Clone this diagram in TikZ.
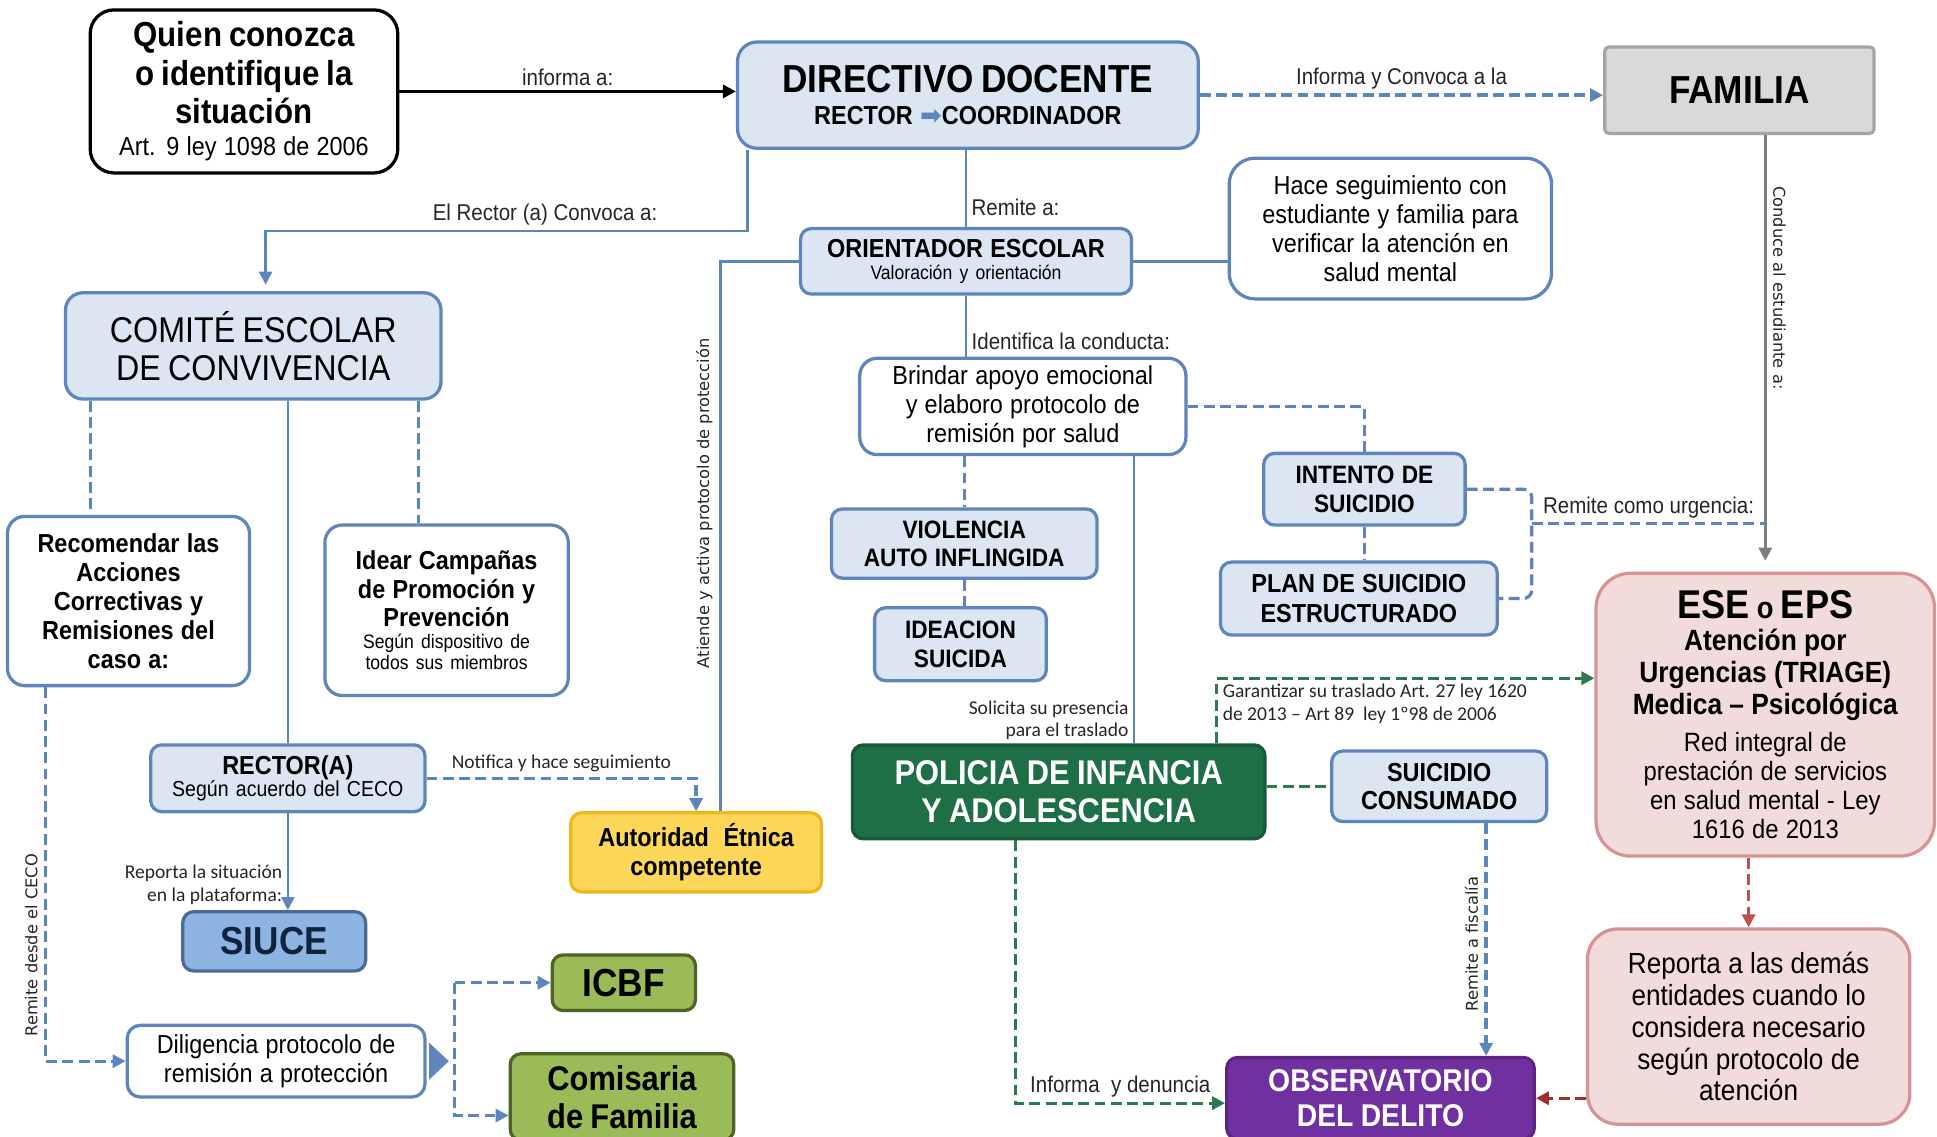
\documentclass[tikz,border=0pt]{standalone}
\usepackage{fontspec}
\setmainfont[FakeStretch=0.9]{Liberation Sans}
\newfontfamily\calib{Carlito}
\newfontfamily\ancha{DejaVu Sans}
\usetikzlibrary{arrows.meta}
\definecolor{fondoazul}{HTML}{DCE6F2}
\definecolor{bordeazul}{HTML}{5E86BD}
\definecolor{azullinea}{HTML}{5A86BC}
\definecolor{azulmedio}{HTML}{8EB4E3}
\definecolor{azuloscuro}{HTML}{10243E}
\definecolor{grisfondo}{HTML}{D9D9D9}
\definecolor{grisborde}{HTML}{A5A5A5}
\definecolor{grislinea}{HTML}{7F7F7F}
\definecolor{rosafondo}{HTML}{F2DCDB}
\definecolor{rosaborde}{HTML}{D59493}
\definecolor{rojolinea}{HTML}{C0504D}
\definecolor{rojooscuro}{HTML}{A0302C}
\definecolor{verdeosc}{HTML}{1E6F46}
\definecolor{verdelinea}{HTML}{2D7A4F}
\definecolor{oliva}{HTML}{9BBB59}
\definecolor{olivaborde}{HTML}{4F6228}
\definecolor{amarillo}{HTML}{FDD75A}
\definecolor{amarilloborde}{HTML}{EFB81A}
\definecolor{morado}{HTML}{7030A0}
\definecolor{moradoborde}{HTML}{5D2684}
\definecolor{textogris}{HTML}{262626}
\newcommand{\letra}[2]{\fontsize{#1}{#2}\selectfont}
\begin{document}
\begin{tikzpicture}[x=0.02cm, y=-0.02cm, >={Triangle[length=6pt,width=6pt]},
	tam/.style 2 args={minimum width=#1*0.02cm, minimum height=#2*0.02cm, text width=#1*0.02cm-10pt},
	caja/.style={draw=bordeazul, fill=fondoazul, line width=1.5pt, rounded corners=5pt, align=center, inner sep=3pt},
	blanca/.style={caja, fill=white, rounded corners=8pt},
	negra/.style={caja, draw=black, fill=white, rounded corners=11pt},
	gris/.style={caja, draw=grisborde, fill=grisfondo, rounded corners=2pt},
	rosa/.style={caja, draw=rosaborde, fill=rosafondo, rounded corners=16pt},
	verde/.style={caja, draw=verdeosc!80!black, fill=verdeosc, text=white},
	olivo/.style={caja, draw=olivaborde, fill=oliva},
	amarilla/.style={caja, draw=amarilloborde, fill=amarillo},
	morada/.style={caja, draw=moradoborde, fill=morado, text=white},
	medio/.style={caja, fill=azulmedio, draw=bordeazul!80!black, text=azuloscuro},
	linea/.style={draw=azullinea, line width=1.2pt},
	rayas/.style={linea, line width=1.5pt, dash pattern=on 5pt off 2.5pt},
	rayasverde/.style={rayas, draw=verdelinea},
	rayasroja/.style={rayas, draw=rojolinea},
	etiqueta/.style={font=\letra{10.5}{12}, text=textogris, inner sep=2pt},
	etcal/.style={font=\calib\letra{9}{10.5}, text=textogris, inner sep=2pt},
	etgir/.style={font=\ancha\letra{7.5}{9}, text=textogris, inner sep=3pt}]
	\fill[white] (0,0) rectangle (1568,920);
	\useasboundingbox (0,0) rectangle (1568,920);
	% cajas
	\node[negra, tam={249}{132}] (quien) at (197.5,74) {{\letra{16}{17.6}\bfseries Quien conozca\\o identifique la\\situación\par}{\letra{12}{15}Art. 9 ley 1098 de 2006\par}};
	\node[caja, tam={373}{86}, rounded corners=9pt] (directivo) at (783.5,77) {{\letra{18}{20}\bfseries DIRECTIVO DOCENTE\par}{\letra{12}{14.7}\bfseries RECTOR {\color{bordeazul}\ancha ➡}COORDINADOR\par}};
	\node[gris, tam={218}{70}] (familia) at (1408,73) {\letra{18}{20}\bfseries FAMILIA\par};
	\node[caja, tam={268}{53}] (orientador) at (782,211.5) {{\letra{12}{13}\bfseries ORIENTADOR ESCOLAR\par}{\letra{9}{10}Valoración y orientación\par}};
	\node[blanca, tam={261}{114}, rounded corners=12pt] (hace) at (1125.5,185) {\letra{12}{13.4}Hace seguimiento con\\estudiante y familia para\\verificar la atención en\\salud mental\par};
	\node[caja, tam={304}{86}, rounded corners=8pt] (comite) at (205,280) {\letra{16.5}{17.6}COMITÉ ESCOLAR\\DE CONVIVENCIA\par};
	\node[blanca, tam={264}{78}] (brindar) at (828,329) {\letra{12}{13.3}Brindar apoyo emocional\\y elaboro protocolo de\\remisión por salud\par};
	\node[caja, tam={215}{56}] (violencia) at (780.5,440) {\letra{11.6}{13}\bfseries VIOLENCIA\\AUTO INFLINGIDA\par};
	\node[caja, tam={139}{59}] (ideacion) at (777.5,521.5) {\letra{11.6}{13}\bfseries IDEACION\\SUICIDA\par};
	\node[caja, tam={163}{58}] (intento) at (1104.5,396) {\letra{11.6}{13.4}\bfseries INTENTO DE\\SUICIDIO\par};
	\node[caja, tam={224}{59}] (plan) at (1100,484.5) {\letra{12}{13.4}\bfseries PLAN DE SUICIDIO\\ESTRUCTURADO\par};
	\node[verde, tam={334}{76}] (policia) at (857,641) {\letra{15.8}{17.6}\bfseries POLICIA DE INFANCIA\\Y ADOLESCENCIA\par};
	\node[caja, tam={174}{57}] (consumado) at (1165,636.5) {\letra{12}{13}\bfseries SUICIDIO\\CONSUMADO\par};
	\node[morada, tam={249}{66}] (observatorio) at (1117.5,889) {\letra{14.5}{15.9}\bfseries OBSERVATORIO\\DEL DELITO\par};
	\node[rosa, tam={274}{229}] (ese) at (1429,578.5) {{\letra{18.5}{21}\bfseries ESE {\letra{14}{14}o} EPS\par}{\letra{13.5}{14.7}\bfseries Atención por\\Urgencias (TRIAGE)\\Medica – Psicológica\par}\vspace{4pt}{\letra{12.2}{13.3}Red integral de\\prestación de servicios\\en salud mental - Ley\\1616 de 2013\par}};
	\node[rosa, tam={261}{158}, rounded corners=14pt] (reporta) at (1415.5,831) {\letra{13.4}{14.7}Reporta a las demás\\entidades cuando lo\\considera necesario\\según protocolo de\\atención\par};
	\node[blanca, tam={196}{137}] (recomendar) at (104,486.5) {\letra{12}{13.3}\bfseries Recomendar las\\Acciones\\Correctivas y\\Remisiones del\\caso a:\par};
	\node[blanca, tam={197}{138}] (idear) at (361.5,494) {{\letra{12}{13.2}\bfseries Idear Campañas\\de Promoción y\\Prevención\par}{\letra{9}{9.8}Según dispositivo de\\todos sus miembros\par}};
	\node[caja, tam={222}{54}] (rectora) at (233,630) {{\letra{12}{13}\bfseries RECTOR(A)\par}{\letra{10}{10.5}Según acuerdo del CECO\par}};
	\node[amarilla, tam={203}{64}] (autoridad) at (563.5,690) {\letra{12}{13.4}\bfseries Autoridad~ Étnica\\competente\par};
	\node[medio, tam={148}{48}] (siuce) at (222,762) {\letra{18}{20}\bfseries SIUCE\par};
	\node[blanca, tam={241}{58}, rounded corners=6pt] (diligencia) at (223.5,859) {\letra{12}{13}Diligencia protocolo de\\remisión a protección\par};
	\node[olivo, tam={116}{45}] (icbf) at (505,795.5) {\letra{18}{20}\bfseries ICBF\par};
	\node[olivo, tam={181}{70}] (comisaria) at (503.5,888) {\letra{15.8}{17.6}\bfseries Comisaria\\de Familia\par};
	% puntos de quiebre
	\coordinate (convoca) at (605,187);
	\coordinate (comitearriba) at ([xshift=0.2cm]comite.north);
	\coordinate (atiende) at (583,0);
	\coordinate (traslado) at (918,0);
	\coordinate (gar) at (985,549);
	\coordinate (fisc) at (1203,0);
	\coordinate (den) at (822,893);
	\coordinate (urg) at (1240,424);
	\coordinate (rc) at (73,0);
	\coordinate (ic) at (339,0);
	\coordinate (rd) at (37,0);
	\coordinate (pc) at (368,903);
	% conectores
	\draw[black, ->, line width=1.4pt] (quien.east) -- (quien.east -| directivo.west) node[midway, above, etiqueta]{informa a:};
	\draw[rayas, ->] (directivo.east) -- (directivo.east -| familia.west) node[midway, above, etiqueta]{Informa y Convoca a la};
	\draw[draw=grislinea, line width=1.3pt, ->, shorten >=5pt] (familia.south -| ese.north) -- (ese.north) node[pos=0.35, rotate=-90, anchor=south, etgir]{Conduce al estudiante a:};
	\draw[linea] (orientador.north |- directivo.south) -- (orientador.north) node[pos=0.75, right, etiqueta]{Remite a:};
	\draw[linea, ->, shorten >=3pt] (directivo.south -| convoca) -- (convoca) -- (convoca -| comitearriba) node[pos=0.42, above, etiqueta]{El Rector (a) Convoca a:} -- (comitearriba);
	\draw[linea] (orientador.east) -- (orientador.east -| hace.west);
	\draw[linea] (orientador.west) -- (orientador.west -| atiende) -- (atiende |- autoridad.north) node[pos=0.44, rotate=90, anchor=south, etgir]{Atiende y activa protocolo de protección};
	\draw[linea] (orientador.south) -- (orientador.south |- brindar.north) node[pos=0.75, right, etiqueta]{Identifica la conducta:};
	\draw[rayas] (brindar.south -| violencia.north) -- (violencia.north);
	\draw[rayas] (violencia.south) -- (violencia.south |- ideacion.north);
	\draw[rayas] (brindar.east) -| (intento.north);
	\draw[rayas] (intento.south) -- (intento.south |- plan.north);
	\draw[rayas, rounded corners=4pt] (intento.east) -- (intento.east -| urg) -- (urg |- plan.east) -- (plan.east);
	\draw[rayas] (urg) -- (urg -| ese.north) node[midway, above, etiqueta]{Remite como urgencia:};
	\draw[linea] (brindar.south -| traslado) -- (traslado |- policia.north) node[pos=0.92, left, etcal, align=right]{Solicita su presencia\\para el traslado};
	\draw[rayasverde, ->] (policia.north -| gar) -- (gar) node[below right, etcal, align=left]{Garantizar su traslado Art. 27 ley 1620\\de 2013 – Art 89~ ley 1º98 de 2006} -- (gar -| ese.west);
	\draw[rayasverde] (consumado.west -| policia.east) -- (consumado.west);
	\draw[rayas, ->] (consumado.south -| fisc) -- (fisc |- observatorio.north) node[pos=0.52, rotate=90, anchor=south, etgir]{Remite a fiscalía};
	\draw[rayasverde, ->] (policia.south -| den) -- (den) -- (den -| observatorio.west) node[midway, above, etiqueta]{Informa~ y denuncia};
	\draw[rayasroja, ->] (reporta.north |- ese.south) -- (reporta.north);
	\draw[rayasroja, draw=rojooscuro, ->] (observatorio.east -| reporta.west) -- (observatorio.east);
	\draw[rayas] (comite.south -| rc) -- (rc |- recomendar.north);
	\draw[linea] (rectora.north |- comite.south) -- (rectora.north);
	\draw[rayas] (comite.south -| ic) -- (ic |- idear.north);
	\draw[rayas, ->] (rectora.east) -| (autoridad.north) node[pos=0.25, above, etcal]{Notifica y hace seguimiento};
	\draw[linea, ->] (rectora.south) -- (rectora.south |- siuce.north) node[pos=0.74, left, etcal, align=right]{Reporta la situación\\en la plataforma:};
	\draw[rayas, ->] (recomendar.south -| rd) -- (rd |- diligencia.west) node[pos=0.69, rotate=90, anchor=south, etgir]{Remite desde el CECO} -- (diligencia.west);
	\fill[bordeazul] (diligencia.east) ++(2,-15) -- ++(16,15) -- ++(-16,15) -- cycle;
	\draw[rayas, ->] (pc |- icbf.west) -- (icbf.west);
	\draw[rayas, ->] (pc |- icbf.west) -- (pc) -- (pc -| comisaria.west);
\end{tikzpicture}
\end{document}
